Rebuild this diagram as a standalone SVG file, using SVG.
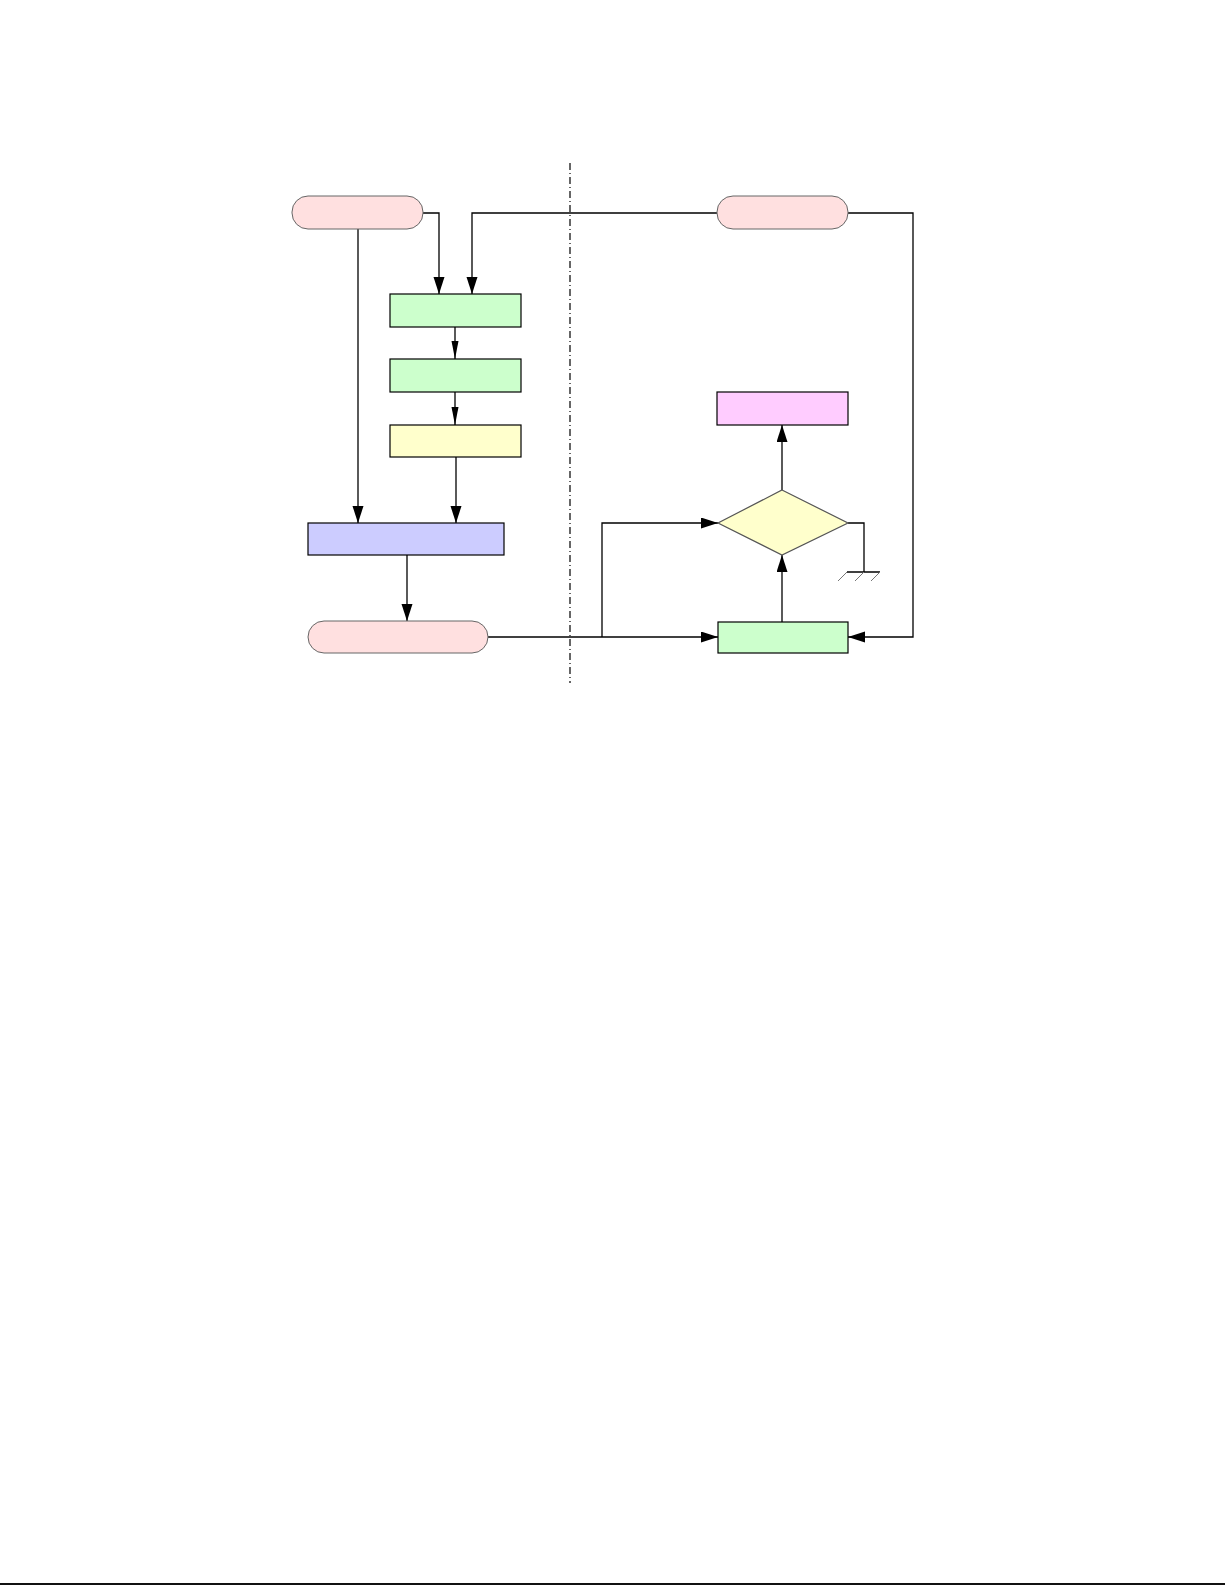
<svg xmlns="http://www.w3.org/2000/svg" width="1225" height="1585" viewBox="0 0 1225 1585">
<style>
.term{stroke:#666;stroke-width:1}
.box{stroke:#000;stroke-width:1.2}
.dia{stroke:#555;stroke-width:1.2}
.pink{fill:#FFE0E0}
.green{fill:#CCFFCC}
.yellow{fill:#FFFFCC}
.blue{fill:#CCCCFF}
.mag{fill:#FFCCFF}
.wire{fill:none;stroke:#000;stroke-width:1.3}
.big{marker-end:url(#ab)}
.small{marker-end:url(#as)}
.hatch{stroke:#777;stroke-width:1}
</style>
<defs>
<marker id="ab" markerUnits="userSpaceOnUse" markerWidth="18" markerHeight="12" refX="17" refY="5.5" orient="auto">
<path d="M0,0 L17,5.5 L0,11 z" fill="#000"/>
</marker>
<marker id="as" markerUnits="userSpaceOnUse" markerWidth="19" markerHeight="8" refX="18" refY="3.5" orient="auto">
<path d="M0,0 L18,3.5 L0,7 z" fill="#000"/>
</marker>
</defs>
<rect width="1225" height="1585" fill="#fff"/>
<line x1="570" y1="163" x2="570" y2="683" stroke="#000" stroke-width="1.2" stroke-dasharray="7 3 1 3"/>
<g id="connectors">
<path class="wire big" d="M423,213 H439 V294"/>
<path class="wire big" d="M717,213 H472 V294"/>
<path class="wire big" d="M358,229 V523"/>
<path class="wire small" d="M455,327 V359"/>
<path class="wire small" d="M455,392 V425"/>
<path class="wire big" d="M456,457 V523"/>
<path class="wire big" d="M407,555 V621"/>
<path class="wire big" d="M488,637 H718"/>
<path class="wire big" d="M602,637 V523 H718"/>
<path class="wire big" d="M782,622 V555"/>
<path class="wire big" d="M782,490 V425"/>
<path class="wire big" d="M848,213 H913 V637 H848"/>
<path class="wire" d="M848,523 H864 V572"/>
</g>
<g id="ground">
<line x1="847" y1="572" x2="880" y2="572" stroke="#000" stroke-width="1.3"/>
<line class="hatch" x1="838" y1="581" x2="847" y2="572"/>
<line class="hatch" x1="855" y1="581" x2="864" y2="572"/>
<line class="hatch" x1="871" y1="581" x2="880" y2="572"/>
</g>
<g id="start-left"><rect class="term pink" x="292" y="196" width="131" height="33" rx="16" ry="16"/></g>
<g id="start-right"><rect class="term pink" x="717" y="196" width="131" height="33" rx="16" ry="16"/></g>
<g id="step1"><rect class="box green" x="390" y="294" width="131" height="33"/></g>
<g id="step2"><rect class="box green" x="390" y="359" width="131" height="33"/></g>
<g id="step3"><rect class="box yellow" x="390" y="425" width="131" height="32"/></g>
<g id="merge"><rect class="box blue" x="308" y="523" width="196" height="32"/></g>
<g id="end-left"><rect class="term pink" x="308" y="621" width="180" height="32" rx="16" ry="16"/></g>
<g id="process-right"><rect class="box green" x="718" y="622" width="130" height="31"/></g>
<g id="decision"><polygon class="dia yellow" points="782,490 848,523 782,555 718,523"/></g>
<g id="result"><rect class="box mag" x="717" y="392" width="131" height="33"/></g>
<rect x="0" y="1583" width="1225" height="2" fill="#111"/>
</svg>
